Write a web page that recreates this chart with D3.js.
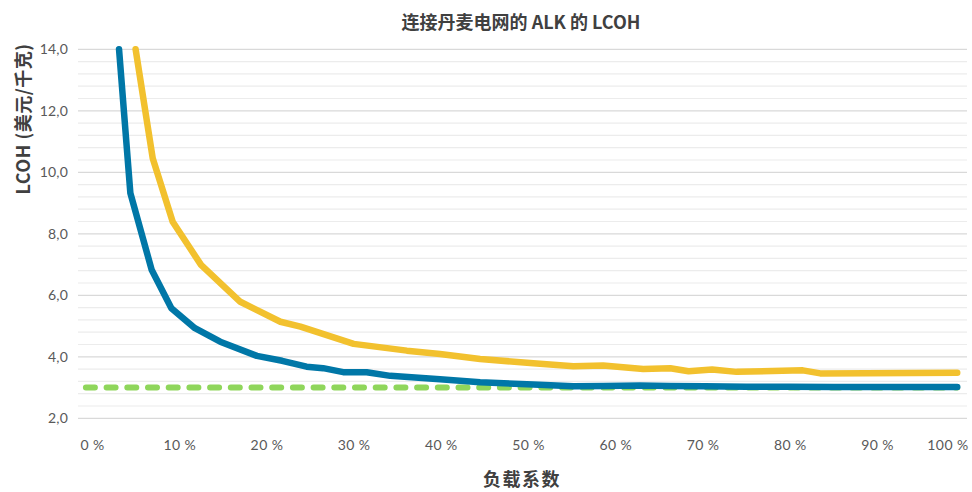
<!DOCTYPE html>
<html>
<head>
<meta charset="utf-8">
<script src="https://cdn.jsdelivr.net/npm/d3@7/dist/d3.min.js"></script>
<style>
  html, body { margin: 0; padding: 0; background: #ffffff; }
  svg { display: block; }
</style>
</head>
<body>
<svg id="chart" width="972" height="492"></svg>
<script>
// Load factor (%) and LCOH (USD/kg) readings for the two ALK cases
const bluePct = [3.1, 4.4, 6.85, 9.1, 11.8, 14.7, 18.9, 21.8, 24.6, 26.5, 28.8, 31.5, 34.2, 39.9, 44.5, 50.6, 55.2, 58.6, 62.8, 66.3, 70.3, 75, 80, 85, 90, 95, 99.2];
const blueLcoh = [14.0, 9.32, 6.82, 5.58, 4.93, 4.49, 4.03, 3.87, 3.68, 3.63, 3.5, 3.5, 3.38, 3.27, 3.17, 3.1, 3.04, 3.05, 3.07, 3.05, 3.04, 3.03, 3.03, 3.02, 3.02, 3.02, 3.02];

const yellowPct = [5.0, 6.96, 9.25, 12.5, 17.0, 21.6, 23.9, 30.0, 36.1, 39.9, 44.5, 50.6, 55.2, 58.6, 63.2, 66.3, 68.4, 71.1, 73.9, 81.5, 83.5, 99.2];
const yellowLcoh = [14.0, 10.46, 8.39, 6.99, 5.79, 5.14, 4.98, 4.42, 4.2, 4.09, 3.93, 3.79, 3.69, 3.72, 3.6, 3.63, 3.53, 3.59, 3.51, 3.56, 3.46, 3.48];

// Reference level drawn as a dashed line across the range
const refPct = [-0.7, 99.2];
const refLcoh = [3.0, 3.0];

const xTickValues = [0, 10, 20, 30, 40, 50, 60, 70, 80, 90, 100];
const yTickValues = [2, 4, 6, 8, 10, 12, 14];
const yMinorStep = 0.4;

const titleText = "连接丹麦电网的 ALK 的 LCOH";
const xTitleText = "负载系数";
const yTitleText = "LCOH (美元/千克)";

const svg = d3.select("#chart");
const plotLeft = 78, plotRight = 967;

const x = d3.scaleLinear().domain([0, 100]).range([92, 964.2]);
const y = d3.scaleLinear().domain([2, 14]).range([418.3, 49.3]);

const fmtY = v => d3.format(".1f")(v).replace(".", ",");
const fmtX = v => v + " %";

// Gridlines: light minor lines every 0.4, slightly darker major lines every 2
const minor = d3.range(2, 14 + 1e-6, yMinorStep).filter(v => Math.abs(v / 2 - Math.round(v / 2)) > 1e-6);
svg.append("g").selectAll("line").data(minor).join("line")
  .attr("x1", plotLeft).attr("x2", plotRight)
  .attr("y1", d => y(d)).attr("y2", d => y(d))
  .attr("stroke", "#ececec").attr("stroke-width", 1.2);
svg.append("g").selectAll("line").data(yTickValues).join("line")
  .attr("x1", plotLeft).attr("x2", plotRight)
  .attr("y1", d => y(d)).attr("y2", d => y(d))
  .attr("stroke", "#d9d9d9").attr("stroke-width", 1.2);

// Y axis tick labels
const yAxis = d3.axisLeft(y).tickValues(yTickValues).tickFormat(fmtY).tickSize(0).tickPadding(0);
const gy = svg.append("g").attr("transform", "translate(68,0)").call(yAxis);
gy.select(".domain").remove();
gy.selectAll("text")
  .attr("fill", "#595959")
  .style("font-family", "Lato, 'Noto Sans', sans-serif")
  .style("font-size", "14px")
  .style("letter-spacing", "0.2px");

// X axis tick labels
const xAxis = d3.axisBottom(x).tickValues(xTickValues).tickFormat(fmtX).tickSize(0).tickPadding(0);
const gx = svg.append("g").attr("transform", "translate(0,440)").call(xAxis);
gx.select(".domain").remove();
gx.selectAll("text")
  .attr("fill", "#595959")
  .style("font-family", "Lato, 'Noto Sans', sans-serif")
  .style("font-size", "14px")
  .style("letter-spacing", "0.4px");
// keep the last label inside the chart area
gx.selectAll(".tick").each(function(d) {
  const t = d3.select(this).select("text");
  const w = t.node().getComputedTextLength();
  const right = x(d) + w / 2;
  if (right > 968) t.attr("x", 968 - right);
});

// Series lines
const line = d3.line().x(d => x(d[0])).y(d => y(d[1]));

svg.append("path")
  .datum(d3.zip(refPct, refLcoh))
  .attr("d", line)
  .attr("fill", "none")
  .attr("stroke", "#8fd65b")
  .attr("stroke-width", 6)
  .attr("stroke-linecap", "round")
  .attr("stroke-dasharray", "9 11.7");

svg.append("path")
  .datum(d3.zip(yellowPct, yellowLcoh))
  .attr("d", line)
  .attr("fill", "none")
  .attr("stroke", "#f2c12e")
  .attr("stroke-width", 6.5)
  .attr("stroke-linecap", "round")
  .attr("stroke-linejoin", "round");

svg.append("path")
  .datum(d3.zip(bluePct, blueLcoh))
  .attr("d", line)
  .attr("fill", "none")
  .attr("stroke", "#0077a7")
  .attr("stroke-width", 6.5)
  .attr("stroke-linecap", "round")
  .attr("stroke-linejoin", "round");

// Titles
const titleFont = "'Noto Sans CJK SC', 'Noto Sans', sans-serif";
svg.append("text")
  .attr("x", 521).attr("y", 29)
  .attr("text-anchor", "middle")
  .attr("fill", "#404040")
  .style("font-family", titleFont)
  .style("font-weight", "bold")
  .style("font-size", "18px")
  .text(titleText);

svg.append("text")
  .attr("x", 522).attr("y", 486)
  .attr("text-anchor", "middle")
  .attr("fill", "#404040")
  .style("font-family", titleFont)
  .style("font-weight", "bold")
  .style("font-size", "18px")
  .style("letter-spacing", "1.5px")
  .text(xTitleText);

svg.append("text")
  .attr("transform", "translate(30,119) rotate(-90)")
  .attr("text-anchor", "middle")
  .attr("fill", "#404040")
  .style("font-family", titleFont)
  .style("font-weight", "bold")
  .style("font-size", "18px")
  .style("letter-spacing", "0.5px")
  .text(yTitleText);
</script>
</body>
</html>
